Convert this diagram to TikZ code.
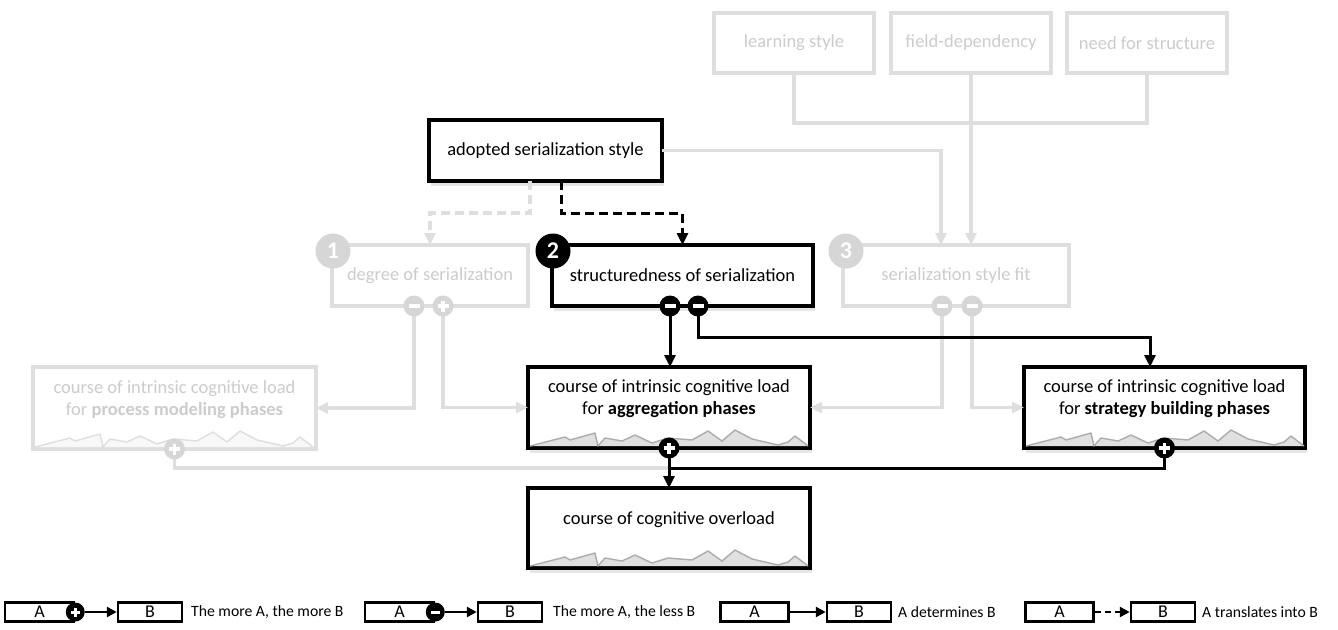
\documentclass[tikz,border=0pt]{standalone}
\usepackage{fontspec}
\setmainfont{Carlito}
\usetikzlibrary{arrows.meta,shadows,calc}
\definecolor{gline}{RGB}{222,222,222}
\definecolor{gtext}{RGB}{204,204,204}
\definecolor{gcirc}{RGB}{214,214,214}
\definecolor{sfill}{RGB}{224,224,224}
\definecolor{sline}{RGB}{172,172,172}
\definecolor{sgfill}{RGB}{248,248,248}
\definecolor{sgline}{RGB}{222,222,222}
\newcommand\mysparkline[3]{%
  \fill[#2, shift={(#1.south west)}] (1.6,-1.9) -- (2,-2) -- (37,-11) -- (42,-8) -- (67,-15) -- (70,-2) -- (77,-10) -- (94,-7) -- (107,-13) -- (124,-5) -- (140,-10) -- (164,-8) -- (180,-17) -- (194,-7) -- (207,-18) -- (224,-9) -- (250,-3) -- (260,-6) -- (267,-12) -- (280,-2) -- (280,-1.9) -- cycle;
  \draw[#3, line width=1.4pt, line join=round, shift={(#1.south west)}] (2,-2) -- (37,-11) -- (42,-8) -- (67,-15) -- (70,-2) -- (77,-10) -- (94,-7) -- (107,-13) -- (124,-5) -- (140,-10) -- (164,-8) -- (180,-17) -- (194,-7) -- (207,-18) -- (224,-9) -- (250,-3) -- (260,-6) -- (267,-12) -- (280,-2);
}
\tikzset{
  bbox/.style={draw=black, line width=3.8pt, fill=white, outer sep=0pt, inner sep=0pt,
    drop shadow={shadow xshift=1.5pt, shadow yshift=-4.5pt, opacity=0.2}},
  gbox/.style={draw=gline, line width=3.3pt, fill=white, outer sep=0pt, inner sep=0pt},
  txt/.style={font=\fontsize{18.5}{22}\selectfont, align=center, inner sep=0pt},
  gtxt/.style={txt, text=gtext},
  blk/.style={line width=3pt, draw=black},
  barr/.style={blk, -{Triangle[length=12pt,width=11pt]}},
  gln/.style={line width=3.3pt, draw=gline},
  garr/.style={gln, -{Triangle[length=12pt,width=11pt]}},
  sgn/.style={circle, minimum size=21pt, inner sep=0pt, outer sep=0pt},
  minusbar/.style={path picture={\draw[white, line width=3.2pt] ([xshift=-5.5pt]path picture bounding box.center) -- ([xshift=5.5pt]path picture bounding box.center);}},
  plusbar/.style={path picture={\draw[white, line width=3.2pt] ([xshift=-5.5pt]path picture bounding box.center) -- ([xshift=5.5pt]path picture bounding box.center) ([yshift=-5.5pt]path picture bounding box.center) -- ([yshift=5.5pt]path picture bounding box.center);}},
  bminus/.style={sgn, fill=black, minusbar},
  bplus/.style={sgn, fill=black, plusbar},
  gminus/.style={sgn, fill=gcirc, minusbar},
  gplus/.style={sgn, fill=gcirc, plusbar},
  numc/.style={circle, minimum size=35pt, inner sep=0pt, text=white, font=\fontsize{24}{24}\selectfont\bfseries},
  lbox/.style={draw=black, line width=2.5pt, minimum height=19pt, inner sep=0pt, font=\fontsize{18}{18}\selectfont},
  ltxt/.style={anchor=west, inner sep=0pt, font=\fontsize{15.7}{16}\selectfont},
  lsgn/.style={circle, minimum size=19pt, inner sep=0pt, fill=black},
  lminus/.style={lsgn, path picture={\draw[white, line width=3pt] ([xshift=-4.5pt]path picture bounding box.center) -- ([xshift=4.5pt]path picture bounding box.center);}},
  lplus/.style={lsgn, path picture={\draw[white, line width=3pt] ([xshift=-4.5pt]path picture bounding box.center) -- ([xshift=4.5pt]path picture bounding box.center) ([yshift=-4.5pt]path picture bounding box.center) -- ([yshift=4.5pt]path picture bounding box.center);}},
  larr/.style={line width=2.5pt, -{Triangle[length=10pt,width=10pt]}},
}
\begin{document}
\begin{tikzpicture}[x=1pt,y=-1pt]
\useasboundingbox (0,0) rectangle (1338,629);

% ---------- gray boxes ----------
\node[gbox, gtxt, minimum width=160pt, minimum height=60pt] (ls) at (794,43) {learning style};
\node[gbox, gtxt, minimum width=160pt, minimum height=60pt] (fd) at (971,43) {field-dependency};
\node[gbox, gtxt, minimum width=160pt, minimum height=60pt] (nfs) at (1147,43) {need for structure};
\node[gbox, gtxt, minimum width=196pt, minimum height=61pt] (deg) at (430,275.5) {degree of serialization};
\node[gbox, gtxt, minimum width=226pt, minimum height=61pt] (fit) at (956,275.5) {serialization style fit};
\node[gbox, minimum width=283pt, minimum height=82pt] (proc) at (174.5,408) {};
\mysparkline{proc}{sgfill}{sgline}
\node[gtxt] (procT) at ([yshift=8.5pt]proc.center) {course of intrinsic cognitive load\\for \textbf{process modeling phases}};

% ---------- black boxes ----------
\node[bbox, txt, minimum width=233pt, minimum height=61pt] (ads) at (545.5,150.5) {adopted serialization style};
\node[bbox, txt, minimum width=261pt, minimum height=61pt] (str) at (682.5,275.5) {structuredness of serialization};
\node[bbox, minimum width=282pt, minimum height=81pt] (agg) at (669,407.5) {};
\mysparkline{agg}{sfill}{sline}
\node[txt] (aggT) at ([yshift=8.5pt]agg.center) {course of intrinsic cognitive load\\for \textbf{aggregation phases}};
\node[bbox, minimum width=281pt, minimum height=81pt] (strat) at (1164.5,407.5) {};
\mysparkline{strat}{sfill}{sline}
\node[txt] (stratT) at ([yshift=8.5pt]strat.center) {course of intrinsic cognitive load\\for \textbf{strategy building phases}};
\node[bbox, minimum width=282pt, minimum height=80pt] (over) at (669,528) {};
\mysparkline{over}{sfill}{sline}
\node[txt] (overT) at ([yshift=8pt]over.center) {course of cognitive overload};

% ---------- sign positions ----------
\coordinate (dm) at ([xshift=-16pt]deg.south);
\coordinate (dp) at ([xshift=13pt]deg.south);
\coordinate (fm1) at ([xshift=-14pt]fit.south);
\coordinate (fm2) at ([xshift=16pt]fit.south);
\coordinate (sm1) at ([xshift=-12.5pt]str.south);
\coordinate (sm2) at ([xshift=15.5pt]str.south);
\coordinate (pp) at (proc.south);
\coordinate (ap) at (agg.south);
\coordinate (sp) at (strat.south);
\coordinate (J) at ($(agg.south)+(0,20)$);

% ---------- gray connectors ----------
\draw[gln] (ls.south) -- ++(0,50) -| (nfs.south);
\draw[garr] (fd.south) -- (fd.south |- fit.north);
\draw[garr] (ads.east) -| ([xshift=-15pt]fit.north);
\draw[garr, dash pattern=on 9pt off 5pt] ([xshift=-15.5pt]ads.south) -- ++(0,32) -| (deg.north);
\draw[garr] (dm) |- (proc.east);
\draw[garr] (dp) |- (agg.west);
\draw[garr] (fm1) |- (agg.east);
\draw[garr] (fm2) |- (strat.west);
\draw[gln] (pp) |- (J);

% ---------- black connectors ----------
\draw[barr, dash pattern=on 9pt off 5pt] ([xshift=15.5pt]ads.south) -- ++(0,32) -| (str.north);
\draw[barr] (sm1) -- (sm1 |- agg.north);
\draw[barr] (sm2) -- ++(0,31) -| ([xshift=-14.5pt]strat.north);
\draw[blk] (sp) |- (J);
\draw[barr] (ap) -- (over.north);

% ---------- signs ----------
\node[gminus] (dmS) at (dm) {};
\node[gplus] (dpS) at (dp) {};
\node[gminus] (fm1S) at (fm1) {};
\node[gminus] (fm2S) at (fm2) {};
\node[gplus] (ppS) at (pp) {};
\node[bminus] (sm1S) at (sm1) {};
\node[bminus] (sm2S) at (sm2) {};
\node[bplus] (apS) at (ap) {};
\node[bplus] (spS) at (sp) {};
\node[numc, fill=gcirc] (n1) at ([shift={(1,6)}]deg.north west) {1};
\node[numc, fill=black] (n2) at ([shift={(1,6)}]str.north west) {2};
\node[numc, fill=gcirc] (n3) at ([shift={(3,6)}]fit.north west) {3};

% ---------- legend ----------
\node[lbox, minimum width=69pt] (la1) at (39.5,612) {A\hspace{9pt}};
\node[lbox, minimum width=64pt] (lb1) at (150,612) {B};
\node[lplus] (ls1) at (la1.east) {};
\draw[larr] (ls1.east) -- (lb1.west);
\node[ltxt] (lt1) at (191,612) {The more A, the more B};

\node[lbox, minimum width=69pt] (la2) at (399.5,612) {A\hspace{9pt}};
\node[lbox, minimum width=64pt] (lb2) at (510,612) {B};
\node[lminus] (ls2) at (la2.east) {};
\draw[larr] (ls2.east) -- (lb2.west);
\node[ltxt] (lt2) at (553,612) {The more A, the less B};

\node[lbox, minimum width=68pt] (la3) at (754.5,612) {A};
\node[lbox, minimum width=64pt] (lb3) at (859,612) {B};
\draw[larr] (la3.east) -- (lb3.west);
\node[ltxt] (lt3) at (898,612) {A determines B};

\node[lbox, minimum width=68pt] (la4) at (1059.5,612) {A};
\node[lbox, minimum width=64pt] (lb4) at (1163,612) {B};
\draw[larr, dash pattern=on 6pt off 4pt] (la4.east) -- (lb4.west);
\node[ltxt] (lt4) at (1202,612) {A translates into B};
\end{tikzpicture}
\end{document}
